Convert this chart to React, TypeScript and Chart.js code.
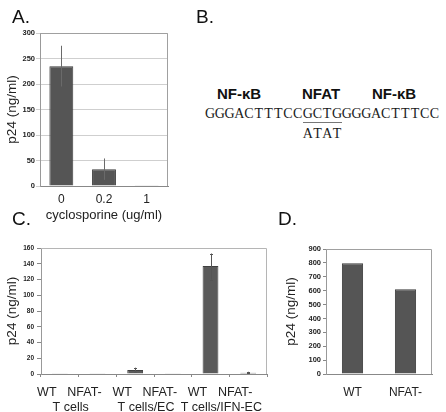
import React, { useEffect, useRef } from "react";
import { Chart, registerables } from "chart.js";

Chart.register(...registerables);

// ---------- Data ----------
const aCategories = ["0", "0.2", "1"];
const aValues = [235, 33, 0.5];
const aErrLow = [195, 12, 0.5];
const aErrHigh = [275, 54, 0.5];
const aTicks = { min: 0, max: 300, step: 50 };

const cCategories = ["WT", "NFAT-", "WT", "NFAT-", "WT", "NFAT-"];
const cGroups = ["T cells", "T cells/EC", "T cells/IFN-EC"];
const cValues = [0.2, 0.3, 5, 0.3, 137, 1.7];
const cErrLow = [0.2, 0.3, 2, 0.3, 120, 0.8];
const cErrHigh = [0.2, 0.3, 8, 0.3, 153, 2.8];
const cTicks = { min: 0, max: 160, step: 20 };

const dCategories = ["WT", "NFAT-"];
const dValues = [797, 610];
const dTicks = { min: 0, max: 900, step: 100 };

const yTitle = "p24 (ng/ml)";
const aXTitle = "cyclosporine (ug/ml)";

const SANS = '"Liberation Sans", Arial, Helvetica, sans-serif';
const SERIF = '"Liberation Serif", "Times New Roman", serif';

// ---------- Plugins ----------
const framePlugin = {
  id: "frame",
  beforeDatasetsDraw(chart: any, _args: any, opts: any) {
    const { ctx, chartArea } = chart;
    ctx.save();
    ctx.strokeStyle = opts.color || "#999";
    ctx.lineWidth = 1;
    ctx.beginPath();
    ctx.moveTo(chartArea.left, chartArea.top + 0.5);
    ctx.lineTo(chartArea.right - 0.5, chartArea.top + 0.5);
    ctx.lineTo(chartArea.right - 0.5, chartArea.bottom);
    ctx.stroke();
    ctx.restore();
  },
};

const errorBarPlugin = {
  id: "errorBars",
  afterDatasetsDraw(chart: any, _args: any, opts: any) {
    const low: number[] | undefined = opts.low;
    const high: number[] | undefined = opts.high;
    if (!low || !high) return;
    const { ctx } = chart;
    const meta = chart.getDatasetMeta(0);
    const y = chart.scales.y;
    ctx.save();
    ctx.strokeStyle = opts.color || "#666";
    ctx.lineWidth = 1;
    meta.data.forEach((bar: any, i: number) => {
      if (low[i] === high[i]) return;
      const x = Math.round(bar.x) + 0.5;
      const y1 = y.getPixelForValue(low[i]);
      const y2 = y.getPixelForValue(high[i]);
      ctx.beginPath();
      ctx.moveTo(x, y1);
      ctx.lineTo(x, y2);
      const c = opts.cap || 0;
      if (c) {
        ctx.moveTo(x - c, Math.round(y2) + 0.5);
        ctx.lineTo(x + c, Math.round(y2) + 0.5);
        ctx.moveTo(x - c, Math.round(y1) + 0.5);
        ctx.lineTo(x + c, Math.round(y1) + 0.5);
      }
      ctx.stroke();
    });
    ctx.restore();
  },
};

// ---------- Chart component ----------
type PanelProps = {
  left: number;
  top: number;
  width: number;
  height: number;
  makeConfig: () => any;
};

function ChartPanel({ left, top, width, height, makeConfig }: PanelProps) {
  const ref = useRef<HTMLCanvasElement | null>(null);
  useEffect(() => {
    if (!ref.current) return;
    const chart = new Chart(ref.current, makeConfig());
    return () => chart.destroy();
  }, []);
  return (
    <canvas
      ref={ref}
      width={width}
      height={height}
      style={{ position: "absolute", left, top, width, height }}
    />
  );
}

function fixWidth(w: number) {
  return (s: any) => {
    s.width = w;
  };
}
function fixHeight(h: number) {
  return (s: any) => {
    s.height = h;
  };
}

function configA() {
  return {
    type: "bar",
    data: {
      labels: aCategories,
      datasets: [
        {
          data: aValues,
          backgroundColor: "#555555",
          borderColor: "#3c3c3c",
          borderWidth: 1,
          categoryPercentage: 1,
          barPercentage: 0.56,
        },
      ],
    },
    plugins: [framePlugin, errorBarPlugin],
    options: {
      responsive: false,
      animation: false,
      devicePixelRatio: 1,
      layout: { padding: { top: 33, right: 12, left: 0, bottom: 0 } },
      plugins: {
        legend: { display: false },
        tooltip: { enabled: false },
        frame: { color: "#a0a0a0" },
        errorBars: { low: aErrLow, high: aErrHigh, color: "#6a6a6a", cap: 0 },
      },
      scales: {
        x: {
          afterFit: fixHeight(44),
          grid: { display: false, drawTicks: false },
          border: { display: true, color: "#888", width: 1 },
          ticks: {
            padding: 6,
            maxRotation: 0,
            minRotation: 0,
            color: "#222",
            font: { family: SANS, size: 12 },
          },
          title: {
            display: true,
            text: aXTitle,
            color: "#222",
            font: { family: SANS, size: 13 },
            padding: { top: 0, bottom: 7.2 },
          },
        },
        y: {
          afterFit: fixWidth(40),
          min: aTicks.min,
          max: aTicks.max,
          grid: { color: "#cfcfcf", drawTicks: true, tickLength: 4 },
          border: { display: true, color: "#999", width: 1 },
          ticks: {
            stepSize: aTicks.step,
            padding: 1,
            color: "#222",
            font: { family: SANS, size: 7.5, weight: "bold" },
          },
          title: {
            display: true,
            text: yTitle,
            color: "#222",
            font: { family: SANS, size: 13.5 },
            padding: { top: 3.9, bottom: 0 },
          },
        },
      },
    },
  };
}

function configC() {
  return {
    type: "bar",
    data: {
      labels: cCategories,
      datasets: [
        {
          data: cValues,
          backgroundColor: "#5a5a5a",
          borderColor: "#404040",
          borderWidth: 1,
          categoryPercentage: 1,
          barPercentage: 0.42,
        },
      ],
    },
    plugins: [framePlugin, errorBarPlugin],
    options: {
      responsive: false,
      animation: false,
      devicePixelRatio: 1,
      layout: { padding: { top: 18, right: 13, left: 0, bottom: 0 } },
      plugins: {
        legend: { display: false },
        tooltip: { enabled: false },
        frame: { color: "#b5b5b5" },
        errorBars: { low: cErrLow, high: cErrHigh, color: "#555", cap: 1.5 },
      },
      scales: {
        x: {
          afterFit: fixHeight(26),
          grid: {
            display: true,
            drawOnChartArea: false,
            drawTicks: true,
            tickLength: 3,
            color: "#888",
            offset: true,
          },
          border: { display: true, color: "#888", width: 1 },
          ticks: {
            padding: 8.5,
            labelOffset: -13,
            maxRotation: 0,
            minRotation: 0,
            autoSkip: false,
            color: "#222",
            font: { family: SANS, size: 12.5 },
          },
        },
        x2: {
          type: "category",
          position: "bottom",
          labels: cGroups,
          afterFit: fixHeight(12),
          grid: { display: false, drawTicks: false },
          border: { display: false },
          ticks: {
            padding: 0,
            labelOffset: -8,
            maxRotation: 0,
            minRotation: 0,
            autoSkip: false,
            color: "#222",
            font: { family: SANS, size: 12.5 },
          },
        },
        y: {
          afterFit: fixWidth(41),
          min: cTicks.min,
          max: cTicks.max,
          grid: { drawOnChartArea: false, drawTicks: true, tickLength: 4, color: "#888" },
          border: { display: true, color: "#999", width: 1 },
          ticks: {
            stepSize: cTicks.step,
            padding: 3,
            color: "#222",
            font: { family: SANS, size: 6.5, weight: "bold" },
          },
          title: {
            display: true,
            text: yTitle,
            color: "#222",
            font: { family: SANS, size: 13.5 },
            padding: { top: 3.9, bottom: 0 },
          },
        },
      },
    },
  };
}

function configD() {
  return {
    type: "bar",
    data: {
      labels: dCategories,
      datasets: [
        {
          data: dValues,
          backgroundColor: "#555555",
          borderColor: "#3c3c3c",
          borderWidth: 1,
          categoryPercentage: 1,
          barPercentage: 0.4,
        },
      ],
    },
    plugins: [framePlugin],
    options: {
      responsive: false,
      animation: false,
      devicePixelRatio: 1,
      layout: { padding: { top: 19, right: 14, left: 0, bottom: 0 } },
      plugins: {
        legend: { display: false },
        tooltip: { enabled: false },
        frame: { color: "#a0a0a0" },
      },
      scales: {
        x: {
          afterFit: fixHeight(38),
          grid: { display: false, drawTicks: false },
          border: { display: true, color: "#888", width: 1 },
          ticks: {
            padding: 11.8,
            maxRotation: 0,
            minRotation: 0,
            color: "#222",
            font: { family: SANS, size: 12 },
          },
        },
        y: {
          afterFit: fixWidth(46),
          min: dTicks.min,
          max: dTicks.max,
          grid: { drawOnChartArea: false, drawTicks: true, tickLength: 3, color: "#888" },
          border: { display: true, color: "#999", width: 1 },
          ticks: {
            stepSize: dTicks.step,
            padding: 2,
            color: "#222",
            font: { family: SANS, size: 7.5, weight: "bold" },
          },
          title: {
            display: true,
            text: yTitle,
            color: "#222",
            font: { family: SANS, size: 13.5 },
            padding: { top: 2.9, bottom: 0 },
          },
        },
      },
    },
  };
}

// ---------- Text helpers ----------
function Txt({
  x,
  baseline,
  size,
  family = SANS,
  weight = "normal",
  children,
  ascentRatio = 0.8465,
}: {
  x: number;
  baseline: number;
  size: number;
  family?: string;
  weight?: string;
  children: React.ReactNode;
  ascentRatio?: number;
}) {
  return (
    <div
      style={{
        position: "absolute",
        left: x,
        top: baseline - ascentRatio * size,
        fontFamily: family,
        fontSize: size,
        fontWeight: weight as any,
        lineHeight: `${size}px`,
        whiteSpace: "pre",
        color: "#111",
      }}
    >
      {children}
    </div>
  );
}

// Fixed-pitch sequence drawn with a serif face (Courier-like look)
function Seq({ x, baseline, text, size, pitch }: { x: number; baseline: number; text: string; size: number; pitch: number }) {
  return (
    <div
      style={{
        position: "absolute",
        left: x,
        top: baseline - 0.891 * size,
        fontFamily: SERIF,
        fontSize: size,
        lineHeight: `${size}px`,
        whiteSpace: "pre",
        color: "#1a1a1a",
        display: "flex",
      }}
    >
      {text.split("").map((ch, i) => (
        <span key={i} style={{ display: "inline-block", width: pitch, textAlign: "center" }}>
          {ch}
        </span>
      ))}
    </div>
  );
}

const seqText = "GGGACTTTCCGCTGGGGACTTTCC";
const seqMut = "ATAT";
const seqSiteStart = 10;

export default function App() {
  const seqSize = 14;
  const pitch = 9.78;
  const seqX = 205;
  return (
    <div
      style={{
        position: "absolute",
        left: 0,
        top: 0,
        width: 446,
        height: 412,
        background: "#fff",
        overflow: "hidden",
      }}
    >
      <ChartPanel left={0} top={0} width={180} height={230} makeConfig={configA} />
      <ChartPanel left={0} top={230} width={280} height={182} makeConfig={configC} />
      <ChartPanel left={280} top={230} width={166} height={182} makeConfig={configD} />

      <Txt x={12} baseline={23} size={19}>A.</Txt>
      <Txt x={196} baseline={23} size={19}>B.</Txt>
      <Txt x={12} baseline={225.5} size={19}>C.</Txt>
      <Txt x={278} baseline={225.5} size={19}>D.</Txt>

      <Txt x={217} baseline={99} size={15} weight="bold">NF-κB</Txt>
      <Txt x={302} baseline={99} size={15} weight="bold">NFAT</Txt>
      <Txt x={372} baseline={99} size={15} weight="bold">NF-κB</Txt>

      <Seq x={seqX} baseline={119} text={seqText} size={seqSize} pitch={pitch} />
      <div
        style={{
          position: "absolute",
          left: seqX + seqSiteStart * pitch,
          top: 122,
          width: seqMut.length * pitch,
          height: 1,
          background: "#777",
        }}
      />
      <Seq x={seqX + seqSiteStart * pitch} baseline={139} text={seqMut} size={seqSize} pitch={pitch} />
    </div>
  );
}
